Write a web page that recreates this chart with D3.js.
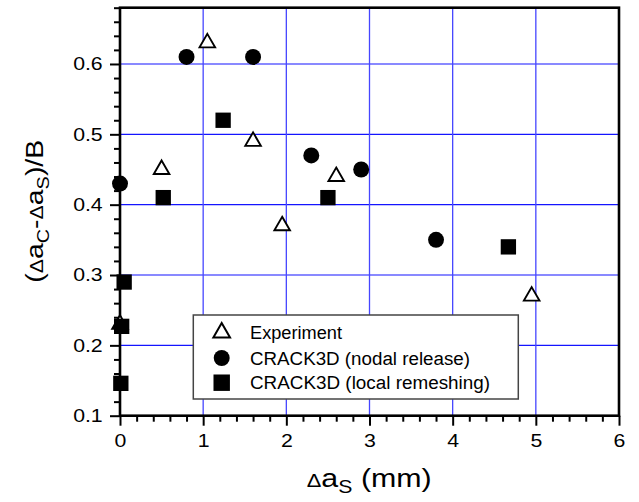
<!DOCTYPE html>
<html>
<head>
<meta charset="utf-8">
<script src="https://cdn.jsdelivr.net/npm/d3@7"></script>
<style>
  body { margin: 0; background: #fff; }
  svg { display: block; font-family: "Liberation Sans", Arial, sans-serif; }
</style>
</head>
<body>
<div id="chart"></div>
<script>
// values
const xTicks = [0, 1, 2, 3, 4, 5, 6];
const yTicks = [0.1, 0.2, 0.3, 0.4, 0.5, 0.6];

const expX = [0, 0.5, 1.05, 1.6, 1.95, 2.6, 4.95];
const expY = [0.23, 0.45, 0.63, 0.49, 0.37, 0.44, 0.27];

const nodalX = [0, 0.8, 1.6, 2.3, 2.9, 3.8];
const nodalY = [0.43, 0.61, 0.61, 0.47, 0.45, 0.35];

const remeshX = [0.01, 0.02, 0.05, 0.52, 1.24, 2.5, 4.67];
const remeshY = [0.146, 0.227, 0.29, 0.41, 0.52, 0.41, 0.34];

const legendLabels = ["Experiment", "CRACK3D (nodal release)", "CRACK3D (local remeshing)"];

const width = 639, height = 502;
const plotLeft = 120, plotRight = 619, plotTop = 7.7, plotBottom = 415.7;

const svg = d3.select("#chart").append("svg")
  .attr("width", width)
  .attr("height", height);

const x = d3.scaleLinear().domain([0, 6]).range([plotLeft, plotRight]);
const y = d3.scaleLinear().domain([0.1, 0.68]).range([plotBottom, plotTop]);

// stretch text horizontally (the source fonts are wider than Arial)
function widen(sel, k) {
  sel.each(function () {
    const w = this.getComputedTextLength();
    d3.select(this).attr("textLength", w * k).attr("lengthAdjust", "spacingAndGlyphs");
  });
}

// grid
svg.append("g").selectAll("line")
  .data(yTicks.slice(1))
  .join("line")
  .attr("x1", plotLeft).attr("x2", plotRight)
  .attr("y1", d => y(d)).attr("y2", d => y(d))
  .attr("stroke", "#1414ff").attr("stroke-width", 1.2);

svg.append("g").selectAll("line")
  .data(xTicks.slice(1, -1))
  .join("line")
  .attr("x1", d => x(d)).attr("x2", d => x(d))
  .attr("y1", plotTop).attr("y2", plotBottom)
  .attr("stroke", "#4646ff").attr("stroke-width", 1.3);

// minor ticks
const xMinor = d3.range(0, 31).filter(i => i % 5 !== 0).map(i => i / 5);
const yMinor = d3.range(5, 35).filter(i => i % 5 !== 0).map(i => i / 50);

svg.append("g")
  .attr("transform", `translate(0,${plotBottom})`)
  .call(d3.axisBottom(x).tickValues(xMinor).tickSize(6).tickFormat(""))
  .call(g => g.select(".domain").remove())
  .call(g => g.selectAll("line").attr("stroke-width", 2));

svg.append("g")
  .attr("transform", `translate(${plotLeft},0)`)
  .call(d3.axisLeft(y).tickValues(yMinor).tickSize(6).tickFormat(""))
  .call(g => g.select(".domain").remove())
  .call(g => g.selectAll("line").attr("stroke-width", 2));

// major ticks + labels
const xAxis = svg.append("g")
  .attr("transform", `translate(0,${plotBottom})`)
  .call(d3.axisBottom(x).tickValues(xTicks).tickSize(10).tickPadding(8.5).tickFormat(d3.format("d")))
  .call(g => g.select(".domain").remove());
xAxis.selectAll("line").attr("stroke-width", 2);
xAxis.selectAll("text").attr("font-size", 18.5).attr("fill", "#000")
  .attr("font-family", "Liberation Sans, Arial, sans-serif").call(widen, 1.15);

const yAxis = svg.append("g")
  .attr("transform", `translate(${plotLeft},0)`)
  .call(d3.axisLeft(y).tickValues(yTicks).tickSize(10).tickPadding(7.3).tickFormat(d3.format(".1f")))
  .call(g => g.select(".domain").remove());
yAxis.selectAll("line").attr("stroke-width", 2);
yAxis.selectAll("text").attr("font-size", 18.5).attr("fill", "#000")
  .attr("font-family", "Liberation Sans, Arial, sans-serif").call(widen, 1.15);

// frame
svg.append("rect")
  .attr("x", plotLeft).attr("y", plotTop)
  .attr("width", plotRight - plotLeft).attr("height", plotBottom - plotTop)
  .attr("fill", "none").attr("stroke", "#000").attr("stroke-width", 2.6);

// markers
const tri = d3.symbol().type(d3.symbolTriangle).size(105);
const circ = d3.symbol().type(d3.symbolCircle).size(200);
const sq = d3.symbol().type(d3.symbolSquare).size(235);

svg.append("g").selectAll("path")
  .data(d3.zip(expX, expY))
  .join("path")
  .attr("d", tri)
  .attr("transform", d => `translate(${x(d[0])},${y(d[1])})`)
  .attr("fill", "#fff").attr("stroke", "#000").attr("stroke-width", 1.9);

svg.append("g").selectAll("path")
  .data(d3.zip(nodalX, nodalY))
  .join("path")
  .attr("d", circ)
  .attr("transform", d => `translate(${x(d[0])},${y(d[1])})`)
  .attr("fill", "#000");

svg.append("g").selectAll("path")
  .data(d3.zip(remeshX, remeshY))
  .join("path")
  .attr("d", sq)
  .attr("transform", d => `translate(${x(d[0])},${y(d[1])})`)
  .attr("fill", "#000");

// legend
const legend = svg.append("g");
legend.append("rect")
  .attr("x", 193.3).attr("y", 315)
  .attr("width", 325).attr("height", 84)
  .attr("fill", "#fff").attr("stroke", "#444").attr("stroke-width", 1.5);

const rowY = [332.7, 358, 382.7];
const symbols = [
  { d: d3.symbol().type(d3.symbolTriangle).size(120)(), fill: "#fff", stroke: "#000" },
  { d: circ(), fill: "#000", stroke: "none" },
  { d: d3.symbol().type(d3.symbolSquare).size(270)(), fill: "#000", stroke: "none" }
];
const legendWidths = [92, 220, 240];

legendLabels.forEach((label, i) => {
  legend.append("path")
    .attr("d", symbols[i].d)
    .attr("transform", `translate(221.7,${rowY[i]})`)
    .attr("fill", symbols[i].fill)
    .attr("stroke", symbols[i].stroke)
    .attr("stroke-width", 2);
  legend.append("text")
    .attr("x", 250).attr("y", rowY[i] + 6.5)
    .attr("font-size", 18)
    .attr("textLength", legendWidths[i])
    .attr("lengthAdjust", "spacingAndGlyphs")
    .text(label);
});

// axis titles
function fitTo(text, target, base) {
  const w = text.node().getBBox().width;
  text.attr("transform", `${base} scale(${target / w},1)`);
}

const xTitle = svg.append("text")
  .attr("text-anchor", "middle")
  .attr("font-size", 25);
xTitle.append("tspan").attr("font-size", "0.72em").text("Δ");
xTitle.append("tspan").text("a");
xTitle.append("tspan").attr("font-size", "0.7em").attr("dy", "0.35em").text("S");
xTitle.append("tspan").attr("dy", "-0.245em").text(" (mm)");
fitTo(xTitle, 125, "translate(369.2,486.7)");

const yTitle = svg.append("text")
  .attr("text-anchor", "middle")
  .attr("font-size", 24);
yTitle.append("tspan").text("(");
yTitle.append("tspan").attr("font-size", "0.75em").text("Δ");
yTitle.append("tspan").text("a");
yTitle.append("tspan").attr("font-size", "0.7em").attr("dy", "0.35em").text("C");
yTitle.append("tspan").attr("dy", "-0.245em").text("-");
yTitle.append("tspan").attr("font-size", "0.75em").text("Δ");
yTitle.append("tspan").text("a");
yTitle.append("tspan").attr("font-size", "0.7em").attr("dy", "0.35em").text("S");
yTitle.append("tspan").attr("dy", "-0.245em").text(")/B");
fitTo(yTitle, 143, "translate(43.3,211.3) rotate(-90)");
</script>
</body>
</html>
